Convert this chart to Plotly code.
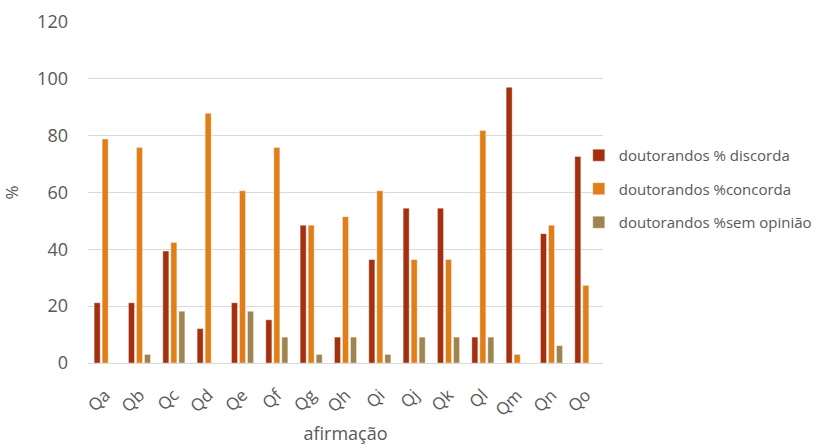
import plotly.graph_objects as go

categories = ["Qa", "Qb", "Qc", "Qd", "Qe", "Qf", "Qg", "Qh", "Qi", "Qj", "Qk", "Ql", "Qm", "Qn", "Qo"]
discorda = [21.2, 21.2, 39.4, 12.1, 21.2, 15.2, 48.5, 9.1, 36.4, 54.5, 54.5, 9.1, 97.0, 45.5, 72.7]
concorda = [78.8, 75.8, 42.4, 87.9, 60.6, 75.8, 48.5, 51.5, 60.6, 36.4, 36.4, 81.8, 3.0, 48.5, 27.3]
sem_opiniao = [0, 3.0, 18.2, 0, 18.2, 9.1, 3.0, 9.1, 3.0, 9.1, 9.1, 9.1, 0, 6.1, 0]

series = [
    ("doutorandos % discorda", discorda, "#A5300F"),
    ("doutorandos %concorda", concorda, "#E07E1A"),
    ("doutorandos %sem opinião", sem_opiniao, "#A08450"),
]

font_family = "Open Sans, Lato, sans-serif"
text_color = "#595959"

fig = go.Figure()
for i, (name, vals, color) in enumerate(series):
    fig.add_trace(go.Bar(
        x=categories, y=vals, name=name,
        marker=dict(color=color, line=dict(color="rgba(255,255,255,0.6)", width=0.6)),
        legendgroup=f"g{i}",
    ))

fig.update_layout(
    width=819, height=445,
    margin=dict(l=88, r=216, t=22, b=82, autoexpand=False),
    paper_bgcolor="white", plot_bgcolor="white",
    barmode="group", bargap=0.30, bargroupgap=0.25,
    font=dict(family=font_family, color=text_color, size=16),
    showlegend=True,
    legend=dict(
        x=0.953, y=0.657, xanchor="left", yanchor="top",
        font=dict(size=15, color=text_color),
        tracegroupgap=11, itemwidth=30, bgcolor="rgba(0,0,0,0)",
    ),
    xaxis=dict(
        title=dict(text="afirmação", font=dict(size=18, color=text_color), standoff=16),
        tickangle=-45, tickfont=dict(size=17, color=text_color),
        showgrid=False, showline=False, ticks="", ticklabelstandoff=18,
    ),
    yaxis=dict(
        title=dict(text="%", font=dict(size=17, color=text_color), standoff=24),
        range=[0, 120], dtick=20, tickfont=dict(size=18, color=text_color),
        gridcolor="#D9D9D9", gridwidth=1.3, zeroline=True, zerolinecolor="#D9D9D9",
        zerolinewidth=1.3, ticks="", ticklabelstandoff=19,
    ),
)

fig.write_html("out.html")
